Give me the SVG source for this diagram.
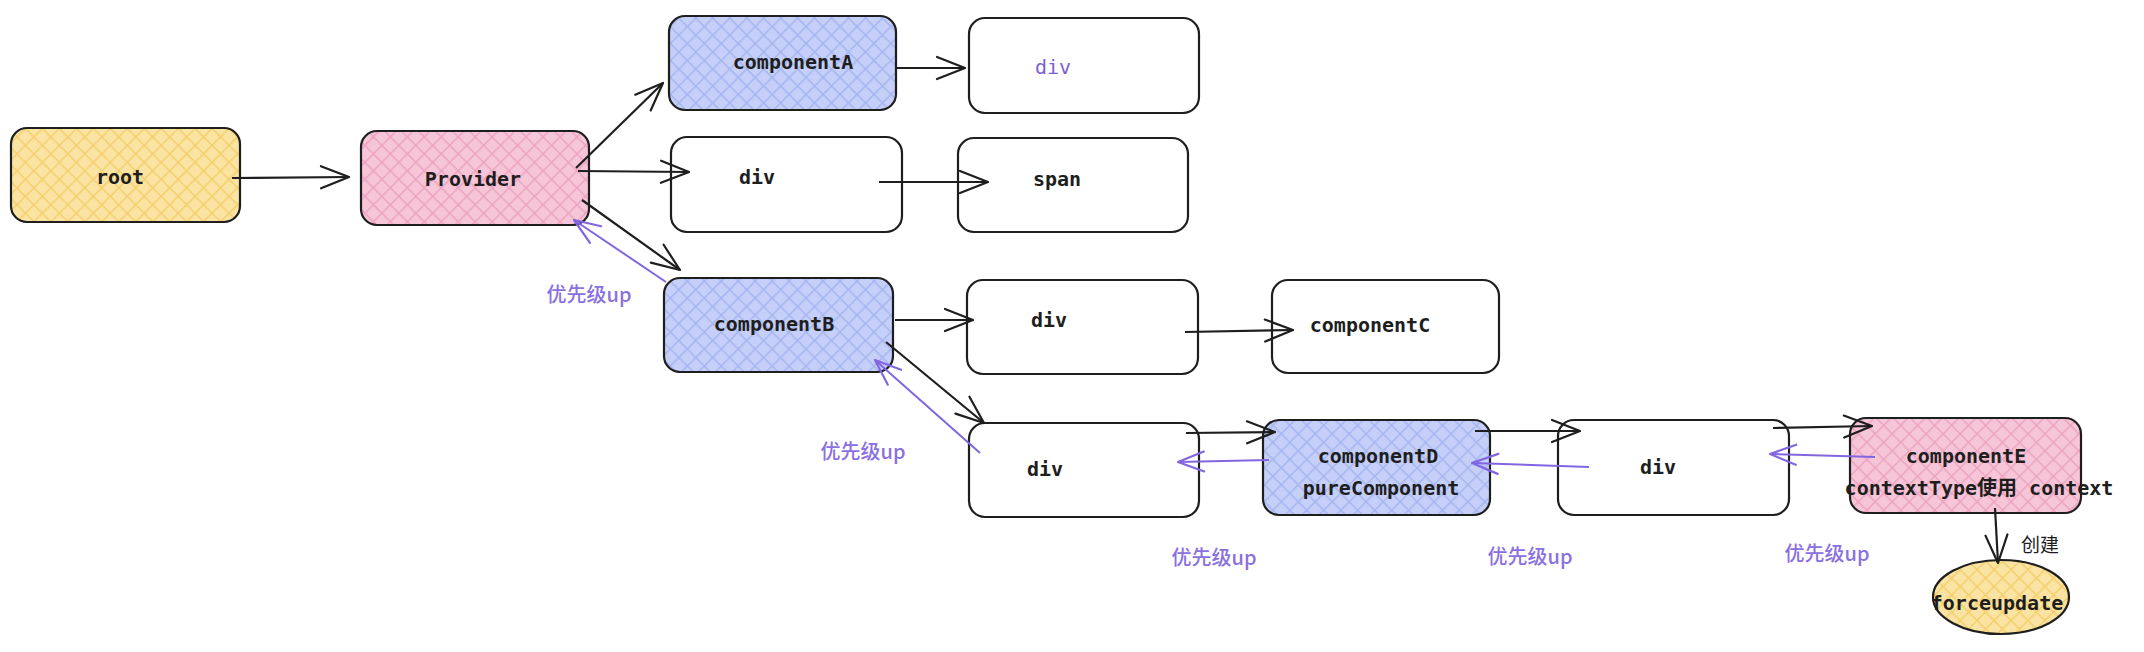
<svg xmlns="http://www.w3.org/2000/svg" width="2144" height="652" viewBox="0 0 2144 652">
<defs>
<pattern id="hy" patternUnits="userSpaceOnUse" width="12" height="12" patternTransform="rotate(45)">
<rect width="12" height="12" fill="#fbe4a3"/><path d="M0 0V12M0 0H12" stroke="#f3cf6c" stroke-width="3"/>
</pattern>
<pattern id="hp" patternUnits="userSpaceOnUse" width="12" height="12" patternTransform="rotate(45)">
<rect width="12" height="12" fill="#f6c6d8"/><path d="M0 0V12M0 0H12" stroke="#eda2bf" stroke-width="3"/>
</pattern>
<pattern id="hb" patternUnits="userSpaceOnUse" width="12" height="12" patternTransform="rotate(45)">
<rect width="12" height="12" fill="#c5cff7"/><path d="M0 0V12M0 0H12" stroke="#a5b5f0" stroke-width="3"/>
</pattern>
<marker id="ah" viewBox="-32 -15 40 30" markerWidth="40" markerHeight="30" refX="0" refY="0" orient="auto" markerUnits="userSpaceOnUse">
<path d="M-28,-11 L0,0 L-28,11" fill="none" stroke="#1e1e1e" stroke-width="2.2" stroke-linecap="round" stroke-linejoin="round"/>
</marker>
<marker id="ap" viewBox="-32 -15 40 30" markerWidth="40" markerHeight="30" refX="0" refY="0" orient="auto" markerUnits="userSpaceOnUse">
<path d="M-26,-10 L0,0 L-26,10" fill="none" stroke="#8166e0" stroke-width="2.2" stroke-linecap="round" stroke-linejoin="round"/>
</marker>
</defs>
<style>
.box{stroke:#1e1e1e;stroke-width:2.2}
.w{fill:#ffffff}
.y{fill:url(#hy)}
.p{fill:url(#hp)}
.b{fill:url(#hb)}
.t{font-family:"DejaVu Sans Mono","Liberation Mono","Noto Sans CJK SC",monospace;font-size:20px;font-weight:bold;fill:#1e1e1e;text-anchor:middle;dominant-baseline:central}
.tp{fill:#7a5fd6}
.up{font-family:"Noto Sans CJK SC","DejaVu Sans",sans-serif;font-size:20px;font-weight:500;fill:#8a70e0;text-anchor:middle;dominant-baseline:central}
.cj{font-family:"Noto Sans CJK SC","DejaVu Sans",sans-serif;font-size:19px;fill:#1e1e1e;text-anchor:middle;dominant-baseline:central}
.c{fill:none;stroke:#1e1e1e;stroke-width:2.2;marker-end:url(#ah)}
.cp{fill:none;stroke:#8166e0;stroke-width:2;marker-end:url(#ap)}
</style>
<rect width="2144" height="652" fill="#ffffff"/>

<g id="root"><rect class="box y" x="11" y="128" width="229" height="94" rx="16"/><text class="t" x="120" y="177">root</text></g>
<g id="provider"><rect class="box p" x="361" y="131" width="228" height="94" rx="16"/><text class="t" x="473" y="179">Provider</text></g>
<g id="componentA"><rect class="box b" x="669" y="16" width="227" height="94" rx="16"/><text class="t" x="793" y="62">componentA</text></g>
<g id="divA"><rect class="box w" x="969" y="18" width="230" height="95" rx="16"/><text class="t tp" x="1053" y="67" style="font-weight:normal">div</text></g>
<g id="div2"><rect class="box w" x="671" y="137" width="231" height="95" rx="16"/><text class="t" x="757" y="177">div</text></g>
<g id="span"><rect class="box w" x="958" y="138" width="230" height="94" rx="16"/><text class="t" x="1057" y="179">span</text></g>
<g id="componentB"><rect class="box b" x="664" y="278" width="229" height="94" rx="16"/><text class="t" x="774" y="324">componentB</text></g>
<g id="divB1"><rect class="box w" x="967" y="280" width="231" height="94" rx="16"/><text class="t" x="1049" y="320">div</text></g>
<g id="componentC"><rect class="box w" x="1272" y="280" width="227" height="93" rx="16"/><text class="t" x="1370" y="325">componentC</text></g>
<g id="divD"><rect class="box w" x="969" y="423" width="230" height="94" rx="16"/><text class="t" x="1045" y="469">div</text></g>
<g id="componentD"><rect class="box b" x="1263" y="420" width="227" height="95" rx="16"/><text class="t" x="1378" y="456">componentD</text><text class="t" x="1381" y="488">pureComponent</text></g>
<g id="div3"><rect class="box w" x="1558" y="420" width="231" height="95" rx="16"/><text class="t" x="1658" y="467">div</text></g>
<g id="componentE"><rect class="box p" x="1850" y="418" width="231" height="95" rx="16"/><text class="t" x="1966" y="456">componentE</text><text class="t" x="1979" y="488">contextType使用 context</text></g>
<g id="forceupdate"><ellipse class="box y" cx="2001" cy="597" rx="68" ry="37"/><text class="t" x="1997" y="603">forceupdate</text></g>

<g id="connectors">
<path class="c" d="M232 178 L349 177"/>
<path class="c" d="M576 168 L663 83"/>
<path class="c" d="M578 171 L689 172"/>
<path class="c" d="M582 200 L680 270"/>
<path class="c" d="M896 68 L965 68"/>
<path class="c" d="M879 182 L988 182"/>
<path class="c" d="M895 320 L973 320"/>
<path class="c" d="M1185 332 L1293 330"/>
<path class="c" d="M886 342 L984 423"/>
<path class="c" d="M1186 433 L1275 432"/>
<path class="c" d="M1475 431 L1580 431"/>
<path class="c" d="M1773 428 L1872 426"/>
<path class="c" d="M1995 508 L1998 563"/>
<path class="cp" d="M666 282 L574 220"/>
<path class="cp" d="M980 453 L875 360"/>
<path class="cp" d="M1269 460 L1178 462"/>
<path class="cp" d="M1589 467 L1472 463"/>
<path class="cp" d="M1875 457 L1770 454"/>
<text class="up" x="589" y="293">优先级up</text>
<text class="up" x="863" y="450">优先级up</text>
<text class="up" x="1214" y="556">优先级up</text>
<text class="up" x="1530" y="555">优先级up</text>
<text class="up" x="1827" y="552">优先级up</text>
<text class="cj" x="2040" y="543">创建</text>
</g>
</svg>
